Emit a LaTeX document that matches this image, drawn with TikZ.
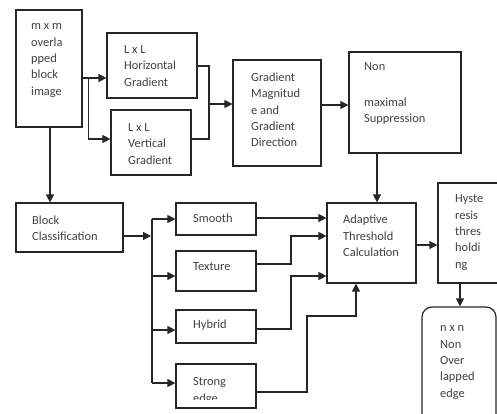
\documentclass[tikz,border=0pt]{standalone}
\usepackage{fontspec}
\setmainfont{Carlito}
\usetikzlibrary{arrows.meta,calc}
\tikzset{
  blk/.style={draw=black!85, line width=1.2pt, inner sep=0pt},
  txt/.style={inner sep=0pt, anchor=west, align=left, text=black!75,
    font=\fontsize{12.4pt}{16.3pt}\selectfont},
  arr/.style={draw=black!85, line width=1.2pt, -{Triangle[length=8pt,width=8pt]}},
  ln/.style={draw=black!85, line width=1.2pt}
}
\newcommand{\mybox}[6][]{%
  \node[blk,#1, minimum width={(#4)-(#2)}, minimum height={(#5)-(#3)}] (#6) at ({((#2)+(#4))/2},{((#3)+(#5))/2}) {};}
\begin{document}
\begin{tikzpicture}[x=1pt,y=-1pt]
\useasboundingbox (0,0) rectangle (497,413);
\clip (0,0) rectangle (497,413);
% boxes
\mybox{16}{10}{82}{127}{b1}
\mybox{107}{33}{197}{98}{hg}
\mybox{111}{110}{191}{175}{vg}
\mybox{233}{60}{321}{166}{gm}
\mybox{349}{52}{461}{153}{nms}
\mybox{16}{203}{123}{252}{bc}
\mybox{176}{203}{256}{235}{sm}
\mybox{176}{251}{256}{291}{tx}
\mybox{176}{310}{256}{343}{hy}
\mybox{176}{364}{256}{408}{se}
\mybox{327}{203}{416}{283}{at}
\mybox{438}{183}{510}{283}{hs}
\mybox[rounded corners=10pt]{422}{307}{496}{440}{out}
% texts
\node[txt] (t1) at (31,60.5) {m x m\\overla\\pped\\block\\image};
\node[txt] (t2) at (124,66) {L x L\\Horizontal\\Gradient};
\node[txt] (t3) at (128,144) {L x L\\Vertical\\Gradient};
\node[txt] (t4) at (251,110) {Gradient\\Magnitud\\e and\\Gradient\\Direction};
\node[txt] (t5) at (364,93.5) {Non\\[19.7pt]maximal\\Suppression};
\node[txt] (t6) at (32,228) {Block\\Classification};
\node[txt] (t7) at (193,218) {Smooth};
\node[txt] (t8) at (193,267) {Texture};
\node[txt] (t9) at (193,325) {Hybrid};
\begin{scope}
\clip (176,364) rectangle (256,399);
\node[txt] (t10) at (193,391) {Strong\\edge};
\end{scope}
\node[txt] (t11) at (343,236) {Adaptive\\Threshold\\Calculation};
\node[txt] (t12) at (455,232.5) {Hyste\\resis\\thres\\holdi\\ng};
\node[txt] (t13) at (440,362.5) {n x n\\Non\\Over\\lapped\\edge};
% connectors top
\coordinate (s1) at (88.5,78);
\draw[arr] (b1.east |- s1) -- (hg.west |- s1);
\draw[arr] (s1) |- (vg.west |- 0,139);
\coordinate (m1) at (209,104);
\draw[ln] (hg.east |- 0,66) -| (m1) |- (vg.east |- 0,139);
\draw[arr] (m1) -- (gm.west |- m1);
\draw[arr] (gm.east |- 0,105) -- (nms.west |- 0,105);
\draw[arr] (nms.south -| 377,0) -- (at.north -| 377,0);
\draw[arr] (b1.south -| 50,0) -- (bc.north -| 50,0);
% classification trunk
\coordinate (tr) at (152,236);
\draw[arr] (bc.east |- tr) -- ([xshift=-1pt]tr);
\draw[ln] (152,219) -- (152,383);
\draw[arr] (152,219) -- (sm.west |- 0,219);
\draw[arr] (152,276) -- (tx.west |- 0,276);
\draw[arr] (152,330) -- (hy.west |- 0,330);
\draw[arr] (152,383) -- (se.west |- 0,383);
% to adaptive
\draw[arr] (sm.east |- 0,218) -- (at.west |- 0,218);
\draw[arr] (tx.east |- 0,264) -- (291,264) -- (291,236) -- (at.west |- 0,236);
\draw[arr] (hy.east |- 0,329) -- (291,329) -- (291,276) -- (at.west |- 0,276);
\draw[arr] (se.east |- 0,392) -- (307,392) -- (307,316) -- (356,316) -- (at.south -| 356,0);
\draw[arr] (at.east |- 0,245) -- (hs.west |- 0,245);
\draw[arr] (hs.south -| 460,0) -- (out.north -| 460,0);
\end{tikzpicture}
\end{document}
